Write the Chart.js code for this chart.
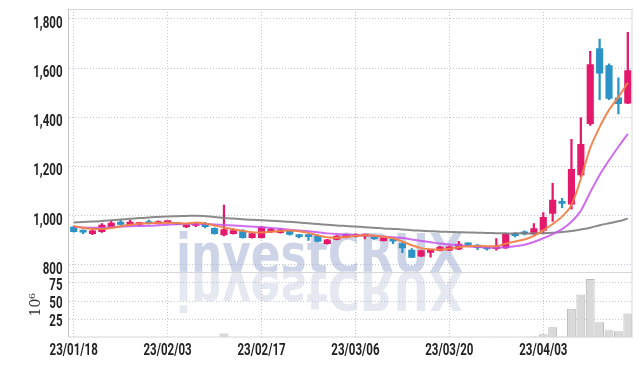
<!DOCTYPE html>
<html><head><meta charset="utf-8">
<script src="https://cdn.jsdelivr.net/npm/chart.js@4.4.1/dist/chart.umd.min.js"></script>
<style>html,body{margin:0;padding:0;background:#fff}#wrap{width:642px;height:366px;position:relative}</style>
</head><body><div id="wrap"><canvas id="c" width="642" height="366"></canvas></div>
<script>
const dates = ['23/01/18','23/01/19','23/01/20','23/01/25','23/01/26','23/01/27','23/01/30','23/01/31',
'23/02/01','23/02/02','23/02/03','23/02/06','23/02/07','23/02/08','23/02/09','23/02/10','23/02/13','23/02/14','23/02/15','23/02/16','23/02/17','23/02/20','23/02/21','23/02/22','23/02/23','23/02/24','23/02/27','23/02/28',
'23/03/02','23/03/03','23/03/06','23/03/07','23/03/08','23/03/09','23/03/10','23/03/13','23/03/14','23/03/15','23/03/16','23/03/17','23/03/20','23/03/21','23/03/22','23/03/23','23/03/24','23/03/27','23/03/28','23/03/29','23/03/30','23/03/31',
'23/04/03','23/04/04','23/04/05','23/04/06','23/04/07','23/04/10','23/04/11','23/04/12','23/04/13','23/04/14'];

const openP  = [954,938,927,935,955,974,962,964,973,968,972,970,954,960,968,949,922,927,938,911,911,934,931,936,921,921,917,886,903,912,916,917,914,898,898,887,860,835,851,859,860,864,888,880,872,866,869,926,934,926,940,1009,1055,1047,1166,1374,1679,1610,1479,1457];
const closeP = [935,933,938,962,970,964,974,969,968,976,974,965,962,968,955,927,943,939,911,927,954,945,942,924,915,915,895,902,917,922,924,920,906,910,896,869,830,858,856,872,873,884,881,870,865,874,926,919,926,947,993,1063,1050,1188,1290,1614,1579,1477,1455,1590];
const highP  = [957,941,941,968,978,982,981,973,982,979,976,972,965,972,973,951,1043,947,943,929,956,948,946,938,923,923,919,904,919,925,927,925,917,912,905,891,866,860,860,875,876,896,890,882,874,907,928,930,938,968,1013,1131,1070,1310,1398,1668,1718,1617,1560,1745];
const lowP   = [933,927,923,932,951,962,960,960,966,966,969,963,951,955,950,925,918,925,908,909,909,931,929,921,910,899,893,884,901,910,914,905,903,896,886,850,829,833,831,857,858,862,878,862,860,860,867,914,922,924,930,977,1032,1026,1158,1367,1471,1471,1414,1455];

const ma5  = [958,950,946,946,950,957,963,967,969,970,971,970,968,972,968,960,952,945,938,933,932,935,938,940,937,930,920,912,910,913,918,920,918,914,908,895,880,868,863,862,866,872,876,877,876,876,886,895,903,918,940,966,996,1043,1150,1275,1360,1430,1482,1540];
const ma20 = [955,952,951,951,953,955,957,958,959,961,963,965,966,967,966,964,962,960,958,956,953,950,947,943,940,937,933,928,925,923,921,920,918,915,912,909,903,897,892,887,883,880,876,873,871,870,872,876,882,893,908,925,945,975,1020,1095,1165,1225,1280,1333];
const ma60 = [972,974,976,978,981,984,987,990,993,995,997,998,999,1000,998,995,991,988,985,983,981,979,977,975,972,969,966,963,960,958,956,953,951,948,946,944,941,939,937,935,934,933,932,931,930,929,928,928,928,928,929,931,934,938,944,951,961,969,977,988];

const volume = [0,0,0,0,0,0,0,0,0,0,0,0,0,0,0,0,5.5,0,0,0,0,0,0,0,0,0,0,0,0,0,0,0,0,0,0,0,0,0,0,0,0,0,0,0,0,1,1,0,0,1.4,4.5,14,1.4,39.5,59,80.5,21,10,8.6,33];

const priceTicks = [800,1000,1200,1400,1600,1800];
const volumeTicks = [25,50,75];

const UP = '#e5196b', DOWN = '#2b93c6';
const candleColors = openP.map((o,i)=> closeP[i] >= o ? UP : DOWN);
const gridColor = 'rgba(170,176,205,0.75)';
const LABEL_FONT = 'bold 16px Roboto, "DejaVu Sans", sans-serif';
const LABEL_SX = 0.72;

const noPad = (s)=>{ s.paddingTop = 0; s.paddingBottom = 0; s.paddingLeft = 0; s.paddingRight = 0; };

function drawLabel(ctx, text, x, y, align){
  ctx.save();
  ctx.translate(x, y);
  ctx.scale(LABEL_SX, 1);
  ctx.textAlign = align;
  ctx.textBaseline = 'alphabetic';
  ctx.fillText(text, 0, 0);
  ctx.restore();
}

const watermark = {
  id:'watermark',
  beforeDraw(chart){
    const ctx = chart.ctx;
    ctx.save();
    ctx.font = 'bold 54px "DejaVu Sans"';
    const text = 'investCRUX';
    const w = ctx.measureText(text).width;
    const sx = 287 / w;
    ctx.translate(176, 272);
    ctx.scale(sx, 1);
    ctx.textBaseline = 'alphabetic';
    ctx.fillStyle = 'rgb(206,212,231)';
    ctx.fillText(text, 0, 0);
    ctx.scale(1, -1);
    ctx.fillStyle = 'rgb(229,232,241)';
    ctx.fillText(text, 0, 0);
    ctx.restore();
  }
};

const frame = {
  id:'frame',
  afterDatasetsDraw(chart){
    const {ctx, chartArea:a} = chart;
    const sep = chart.scales.y.bottom;
    ctx.save();
    ctx.lineWidth = 1;
    ctx.strokeStyle = '#d6d6d6';
    ctx.beginPath();
    ctx.moveTo(a.left, a.top+0.5); ctx.lineTo(a.right, a.top+0.5);
    ctx.moveTo(a.right-0.5, a.top); ctx.lineTo(a.right-0.5, a.bottom);
    ctx.moveTo(a.left, a.bottom-0.5); ctx.lineTo(a.right, a.bottom-0.5);
    ctx.moveTo(a.left, Math.round(sep)+0.5); ctx.lineTo(a.right, Math.round(sep)+0.5);
    ctx.stroke();
    ctx.strokeStyle = '#c4c4c4';
    ctx.beginPath();
    ctx.moveTo(a.left-0.5, a.top); ctx.lineTo(a.left-0.5, a.bottom);
    ctx.stroke();
    ctx.restore();
  }
};

const axisLabels = {
  id:'axisLabels',
  afterDraw(chart){
    const {ctx, scales} = chart;
    ctx.save();
    ctx.font = LABEL_FONT;
    ctx.fillStyle = '#222';
    priceTicks.forEach(v => drawLabel(ctx, v.toLocaleString('en-US'), 62.5, Math.round(scales.y.getPixelForValue(v)) + 8.5, 'right'));
    volumeTicks.forEach(v => drawLabel(ctx, String(v), 62.5, Math.round(scales.yv.getPixelForValue(v)) + 7, 'right'));
    dates.forEach((d,i) => { if (i % 10 === 0) drawLabel(ctx, d, scales.x.getPixelForValue(i), 354.5, 'center'); });
    ctx.restore();
  }
};

new Chart(document.getElementById('c'), {
  type:'bar',
  data:{
    labels: dates,
    datasets:[
      {type:'line', label:'MA5', data:ma5, yAxisID:'y', borderColor:'rgba(239,130,72,0.95)', borderWidth:2, pointRadius:0, tension:0.3, order:0},
      {type:'line', label:'MA20', data:ma20, yAxisID:'y', borderColor:'rgba(198,82,236,0.85)', borderWidth:2, pointRadius:0, tension:0.3, order:0},
      {type:'line', label:'MA60', data:ma60, yAxisID:'y', borderColor:'rgba(125,125,125,0.9)', borderWidth:2, pointRadius:0, tension:0.3, order:0},
      {type:'bar', label:'body', data:openP.map((o,i)=>[o, closeP[i]]), yAxisID:'y', backgroundColor:candleColors, barThickness:6.5, grouped:false, minBarLength:2, order:1},
      {type:'bar', label:'wick', data:lowP.map((l,i)=>[l, highP[i]]), yAxisID:'y', backgroundColor:candleColors, barThickness:1.6, grouped:false, order:2},
      {type:'bar', label:'volume', data:volume, yAxisID:'yv', backgroundColor:'#d9d9d9', borderColor:'#b9b9b9', borderWidth:1, barPercentage:1, categoryPercentage:0.94, grouped:false, order:3}
    ]
  },
  options:{
    responsive:false, animation:false,
    layout:{padding:{top:9, right:9.5, left:0, bottom:0}},
    plugins:{legend:{display:false}, tooltip:{enabled:false}},
    scales:{
      x:{
        offset:true,
        grid:{offset:false, drawTicks:false, color:(c)=> (c.index % 10 === 0) ? gridColor : 'rgba(0,0,0,0)'},
        border:{display:false, dash:[1,2]},
        afterFit:(s)=>{ s.height = 28.5; noPad(s); },
        ticks:{display:false, autoSkip:false}
      },
      y:{
        position:'left', stack:'p', stackWeight:263, weight:1,
        min:771, max:1840,
        afterBuildTicks:(s)=>{ s.ticks = priceTicks.map(v=>({value:v})); },
        afterFit:(s)=>{ s.width = 69; noPad(s); },
        grid:{drawTicks:false, color:gridColor},
        border:{display:false, dash:[1,2]},
        ticks:{display:false, autoSkip:false}
      },
      yv:{
        position:'left', stack:'p', stackWeight:65.5, weight:0,
        min:0, max:90,
        afterBuildTicks:(s)=>{ s.ticks = volumeTicks.map(v=>({value:v})); },
        afterFit:(s)=>{ s.width = 69; noPad(s); },
        grid:{drawTicks:false, color:gridColor},
        border:{display:false, dash:[1,2]},
        title:{display:true, text:'10⁶', color:'#333', font:{family:'"DejaVu Serif"', size:14}, padding:{top:28, bottom:0}},
        ticks:{display:false, autoSkip:false}
      }
    }
  },
  plugins:[watermark, frame, axisLabels]
});
</script></body></html>
